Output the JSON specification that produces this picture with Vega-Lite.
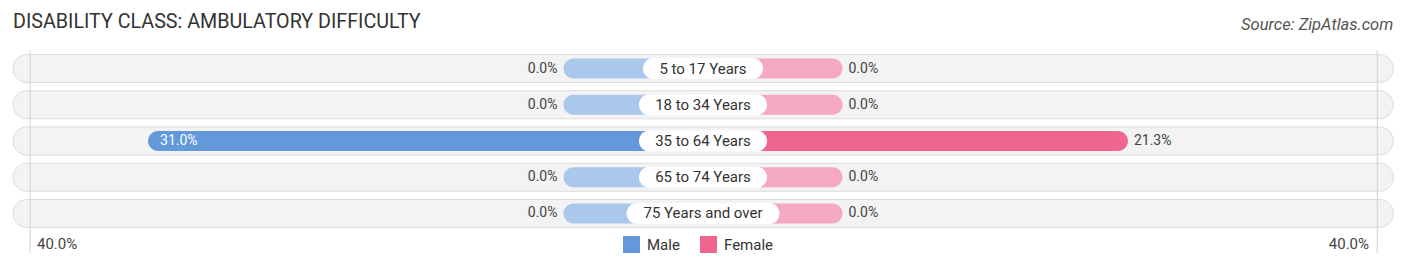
{
  "$schema": "https://vega.github.io/schema/vega-lite/v6.json",
  "width": 1406,
  "height": 269,
  "autosize": "none",
  "padding": 0,
  "background": "white",
  "config": {"font": "Roboto", "view": {"stroke": null}},
  "title": {"text": "DISABILITY CLASS: AMBULATORY DIFFICULTY", "anchor": "start", "frame": "group", "orient": "top", "offset": 0, "dx": 13, "dy": 48, "baseline": "alphabetic", "fontSize": 19.7, "fontWeight": "normal", "font": "Roboto", "color": "#333333"},
  "data": {"values": [
    {"age": "5 to 17 Years", "sex": "Male", "value": 0.0},
    {"age": "18 to 34 Years", "sex": "Male", "value": 0.0},
    {"age": "35 to 64 Years", "sex": "Male", "value": 0.31},
    {"age": "65 to 74 Years", "sex": "Male", "value": 0.0},
    {"age": "75 Years and over", "sex": "Male", "value": 0.0},
    {"age": "5 to 17 Years", "sex": "Female", "value": 0.0},
    {"age": "18 to 34 Years", "sex": "Female", "value": 0.0},
    {"age": "35 to 64 Years", "sex": "Female", "value": 0.213},
    {"age": "65 to 74 Years", "sex": "Female", "value": 0.0},
    {"age": "75 Years and over", "sex": "Female", "value": 0.0}
  ]},
  "resolve": {"scale": {"x": "independent"}},
  "layer": [
    {
      "transform": [{"filter": "datum.sex == 'Male'"}],
      "mark": {"type": "bar", "height": 28, "cornerRadius": 14, "fill": "#f3f3f3", "stroke": "#dcdcdc", "strokeWidth": 1},
      "encoding": {
        "y": {"field": "age", "type": "nominal", "axis": null, "scale": {"type": "band", "domain": ["5 to 17 Years", "18 to 34 Years", "35 to 64 Years", "65 to 74 Years", "75 Years and over"], "range": [50.4, 231.6], "paddingInner": 0, "paddingOuter": 0}},
        "x": {"datum": -0.619, "type": "quantitative", "axis": null, "scale": {"domain": [-0.6287, 0.4205], "zero": false, "nice": false}},
        "x2": {"datum": 0.411}
      }
    },
    {
      "data": {"values": [{"t": "grid"}]},
      "mark": {"type": "rule", "color": "#d0d0d0", "strokeWidth": 1, "yOffset": -18.5, "y2Offset": 39.5},
      "encoding": {
        "y": {"datum": "5 to 17 Years", "type": "nominal", "axis": null},
        "y2": {"datum": "75 Years and over"},
        "x": {"datum": 0.398, "type": "quantitative", "axis": null, "scale": {"domain": [-0.6287, 0.4205], "zero": false, "nice": false, "reverse": true}}
      }
    },
    {
      "data": {"values": [{"t": "grid"}]},
      "mark": {"type": "rule", "color": "#d0d0d0", "strokeWidth": 1, "yOffset": -18.5, "y2Offset": 39.5},
      "encoding": {
        "y": {"datum": "5 to 17 Years", "type": "nominal", "axis": null},
        "y2": {"datum": "75 Years and over"},
        "x": {"datum": 0.399, "type": "quantitative", "axis": null, "scale": {"domain": [-0.6287, 0.4205], "zero": false, "nice": false}}
      }
    },
    {
      "transform": [{"filter": "datum.sex == 'Male'"}],
      "mark": {"type": "bar", "height": 20, "cornerRadius": 10, "fill": "#aac8ec"},
      "encoding": {
        "y": {"field": "age", "type": "nominal", "axis": null},
        "x": {"datum": 0, "type": "quantitative", "axis": null, "scale": {"domain": [-0.6287, 0.4205], "zero": false, "nice": false, "reverse": true}},
        "x2": {"datum": -0.1041}
      }
    },
    {
      "transform": [{"filter": "datum.sex == 'Female'"}],
      "mark": {"type": "bar", "height": 20, "cornerRadius": 10, "fill": "#f5a8c2"},
      "encoding": {
        "y": {"field": "age", "type": "nominal", "axis": null},
        "x": {"datum": 0, "type": "quantitative", "axis": null, "scale": {"domain": [-0.6287, 0.4205], "zero": false, "nice": false}},
        "x2": {"datum": -0.1041}
      }
    },
    {
      "transform": [{"filter": "datum.sex == 'Male' && datum.value > 0"}],
      "mark": {"type": "bar", "height": 20, "cornerRadius": 10},
      "encoding": {
        "y": {"field": "age", "type": "nominal", "axis": null},
        "x": {"field": "value", "type": "quantitative", "axis": null, "scale": {"domain": [-0.6287, 0.4205], "zero": false, "nice": false, "reverse": true}},
        "x2": {"datum": -0.1041},
        "color": {"field": "sex", "type": "nominal", "scale": {"domain": ["Male", "Female"], "range": ["#6399db", "#f0668f"]},
          "legend": {"orient": "none", "legendX": 623, "legendY": 236, "direction": "horizontal", "title": null, "symbolType": "square", "symbolSize": 289, "symbolStrokeWidth": 0, "symbolOpacity": 1, "labelFontSize": 15, "labelColor": "#333333", "labelFont": "Roboto", "labelOffset": 7, "columnPadding": 20, "padding": 0}}
      }
    },
    {
      "transform": [{"filter": "datum.sex == 'Female' && datum.value > 0"}],
      "mark": {"type": "bar", "height": 20, "cornerRadius": 10},
      "encoding": {
        "y": {"field": "age", "type": "nominal", "axis": null},
        "x": {"field": "value", "type": "quantitative", "axis": null, "scale": {"domain": [-0.6287, 0.4205], "zero": false, "nice": false}},
        "x2": {"datum": -0.1041},
        "color": {"field": "sex", "type": "nominal"}
      }
    },
    {
      "transform": [{"filter": "datum.sex == 'Male' && datum.age == '5 to 17 Years'"}],
      "mark": {"type": "bar", "height": 21, "cornerRadius": 10.5, "fill": "white"},
      "encoding": {
        "y": {"field": "age", "type": "nominal", "axis": null},
        "x": {"datum": -0.1489, "type": "quantitative", "axis": null, "scale": {"domain": [-0.6287, 0.4205], "zero": false, "nice": false}},
        "x2": {"datum": -0.0593}
      }
    },
    {
      "transform": [{"filter": "datum.sex == 'Male' && datum.age != '5 to 17 Years' && datum.age != '75 Years and over'"}],
      "mark": {"type": "bar", "height": 21, "cornerRadius": 10.5, "fill": "white"},
      "encoding": {
        "y": {"field": "age", "type": "nominal", "axis": null},
        "x": {"datum": -0.1519, "type": "quantitative", "axis": null, "scale": {"domain": [-0.6287, 0.4205], "zero": false, "nice": false}},
        "x2": {"datum": -0.0563}
      }
    },
    {
      "transform": [{"filter": "datum.sex == 'Male' && datum.age == '75 Years and over'"}],
      "mark": {"type": "bar", "height": 21, "cornerRadius": 10.5, "fill": "white"},
      "encoding": {
        "y": {"field": "age", "type": "nominal", "axis": null},
        "x": {"datum": -0.1612, "type": "quantitative", "axis": null, "scale": {"domain": [-0.6287, 0.4205], "zero": false, "nice": false}},
        "x2": {"datum": -0.047}
      }
    },
    {
      "transform": [{"filter": "datum.sex == 'Male'"}],
      "mark": {"type": "text", "fontSize": 15, "color": "#333333", "align": "center", "baseline": "middle", "font": "Roboto"},
      "encoding": {
        "y": {"field": "age", "type": "nominal", "axis": null},
        "x": {"datum": -0.1041, "type": "quantitative", "axis": null, "scale": {"domain": [-0.6287, 0.4205], "zero": false, "nice": false}},
        "text": {"field": "age"}
      }
    },
    {
      "transform": [{"filter": "datum.sex == 'Male' && datum.value <= 0.05"}],
      "mark": {"type": "text", "fontSize": 14, "color": "#444444", "align": "right", "baseline": "middle", "dx": -6, "font": "Roboto"},
      "encoding": {
        "y": {"field": "age", "type": "nominal", "axis": null},
        "x": {"field": "value", "type": "quantitative", "axis": null, "scale": {"domain": [-0.6287, 0.4205], "zero": false, "nice": false, "reverse": true}},
        "text": {"field": "value", "format": ".1%"}
      }
    },
    {
      "transform": [{"filter": "datum.sex == 'Male' && datum.value > 0.05"}],
      "mark": {"type": "text", "fontSize": 14, "color": "white", "align": "left", "baseline": "middle", "dx": 12, "font": "Roboto"},
      "encoding": {
        "y": {"field": "age", "type": "nominal", "axis": null},
        "x": {"field": "value", "type": "quantitative", "axis": null, "scale": {"domain": [-0.6287, 0.4205], "zero": false, "nice": false, "reverse": true}},
        "text": {"field": "value", "format": ".1%"}
      }
    },
    {
      "transform": [{"filter": "datum.sex == 'Female'"}],
      "mark": {"type": "text", "fontSize": 14, "color": "#444444", "align": "left", "baseline": "middle", "dx": 6, "font": "Roboto"},
      "encoding": {
        "y": {"field": "age", "type": "nominal", "axis": null},
        "x": {"field": "value", "type": "quantitative", "axis": null, "scale": {"domain": [-0.6287, 0.4205], "zero": false, "nice": false}},
        "text": {"field": "value", "format": ".1%"}
      }
    },
    {
      "data": {"values": [{"t": "40.0%"}]},
      "mark": {"type": "text", "fontSize": 15, "color": "#444444", "align": "left", "baseline": "middle", "dx": 9.5, "dy": 31, "font": "Roboto"},
      "encoding": {
        "y": {"datum": "75 Years and over", "type": "nominal", "axis": null},
        "x": {"datum": 0.4, "type": "quantitative", "axis": null, "scale": {"domain": [-0.6287, 0.4205], "zero": false, "nice": false, "reverse": true}},
        "text": {"field": "t"}
      }
    },
    {
      "data": {"values": [{"t": "40.0%"}]},
      "mark": {"type": "text", "fontSize": 15, "color": "#444444", "align": "right", "baseline": "middle", "dx": -9.5, "dy": 31, "font": "Roboto"},
      "encoding": {
        "y": {"datum": "75 Years and over", "type": "nominal", "axis": null},
        "x": {"datum": 0.4, "type": "quantitative", "axis": null, "scale": {"domain": [-0.6287, 0.4205], "zero": false, "nice": false}},
        "text": {"field": "t"}
      }
    },
    {
      "data": {"values": [{"t": "Source: ZipAtlas.com"}]},
      "mark": {"type": "text", "fontSize": 16.5, "fontStyle": "italic", "color": "#555555", "align": "right", "baseline": "middle", "dy": -44, "font": "Roboto"},
      "encoding": {
        "y": {"datum": "5 to 17 Years", "type": "nominal", "axis": null},
        "x": {"datum": 0.411, "type": "quantitative", "axis": null, "scale": {"domain": [-0.6287, 0.4205], "zero": false, "nice": false}},
        "text": {"field": "t"}
      }
    }
  ]
}
